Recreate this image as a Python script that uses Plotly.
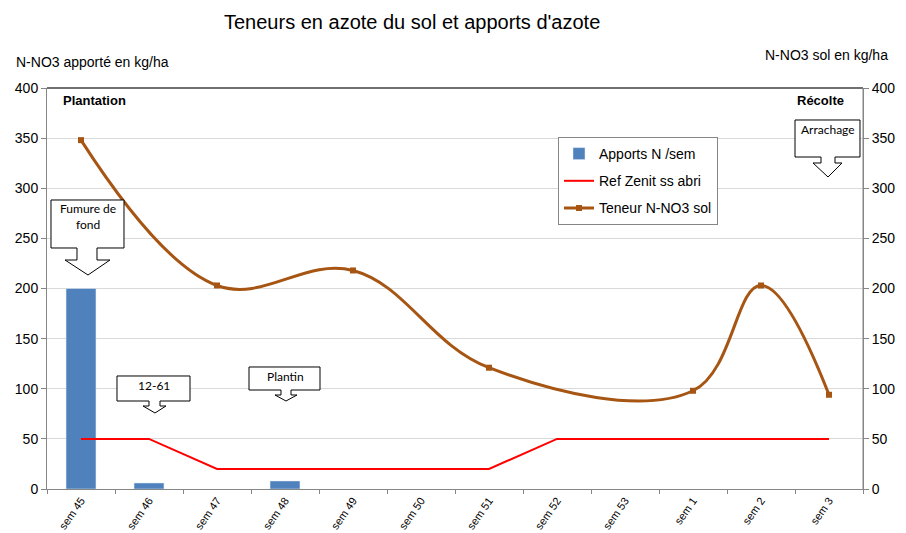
import plotly.graph_objects as go

categories = ["sem 45", "sem 46", "sem 47", "sem 48", "sem 49", "sem 50",
              "sem 51", "sem 52", "sem 53", "sem 1", "sem 2", "sem 3"]
apports = [200, 6, None, 8, None, None, None, None, None, None, None, None]
ref_zenit = [50, 50, 20, 20, 20, 20, 20, 50, 50, 50, 50, 50]
teneur = [348, None, 203, None, 218, None, 121, None, None, 98, 203, 94]
y_ticks = [0, 50, 100, 150, 200, 250, 300, 350, 400]

W, H = 906, 533
L, R, T, B = 47, 863, 88, 489

def px(x):
    return (x - L) / (R - L)

def py(y):
    return (B - y) / (B - T)

BROWN = "#A65513"
FONT = "Liberation Sans"

fig = go.Figure()
fig.add_trace(go.Bar(x=categories, y=apports, name="Apports N /sem",
                     marker_color="#4F81BD", legendgroup="a"))
fig.add_trace(go.Scatter(x=categories, y=ref_zenit, name="Ref Zenit ss abri",
                         mode="lines", line=dict(color="#FF0000", width=2),
                         yaxis="y2", legendgroup="b"))
fig.add_trace(go.Scatter(x=categories, y=teneur, name="Teneur N-NO3 sol",
                         mode="lines+markers", connectgaps=True,
                         line=dict(color=BROWN, width=3, shape="spline", smoothing=1.1),
                         marker=dict(symbol="square", size=6, color=BROWN),
                         yaxis="y2", legendgroup="c"))

def callout(x0, y0, x1, y1, sl, sr, ys, wl, wr, ax, ay):
    pts = [(x0, y0), (x1, y0), (x1, y1), (sr, y1), (sr, ys), (wr, ys), (ax, ay),
           (wl, ys), (sl, ys), (sl, y1), (x0, y1)]
    d = "M " + " L ".join(f"{px(a):.5f},{py(b):.5f}" for a, b in pts) + " Z"
    return dict(type="path", path=d, xref="paper", yref="paper",
                fillcolor="white", line=dict(color="#000000", width=1), layer="above")

shapes = [
    callout(51, 200, 124, 248, 77, 97, 260, 65, 110, 88, 275),
    callout(117, 376, 190, 401, 149, 160, 406, 143, 166, 155, 413),
    callout(249, 367, 320, 390, 281, 291, 395, 275, 297, 286, 401),
    callout(795, 120, 860, 157, 821, 835, 163, 813, 842, 828, 177),
    dict(type="line", xref="paper", yref="paper", x0=0, x1=1, y0=1, y1=1,
         line=dict(color="#404040", width=1.5)),
    dict(type="line", xref="paper", yref="paper", x0=1, x1=1, y0=0, y1=1,
         line=dict(color="#868686", width=1)),
]

cfont = dict(family="Lato", size=12, color="#000000")

def ann(text, x, y, xanchor="center", font=None):
    return dict(text=text, xref="paper", yref="paper", x=px(x), y=py(y),
                xanchor=xanchor, yanchor="middle", showarrow=False,
                font=font or cfont)

annotations = [
    ann("Teneurs en azote du sol et apports d'azote", 412, 22,
        font=dict(family=FONT, size=20, color="#000000")),
    ann("N-NO3 apporté en kg/ha", 14, 62, "left",
        font=dict(family=FONT, size=14, color="#000000")),
    ann("N-NO3 sol en kg/ha", 890, 55, "right",
        font=dict(family=FONT, size=14, color="#000000")),
    ann("<b>Plantation</b>", 61, 101, "left",
        font=dict(family=FONT, size=13, color="#000000")),
    ann("<b>Récolte</b>", 846, 101, "right",
        font=dict(family=FONT, size=13, color="#000000")),
    ann("Fumure de<br>fond", 88, 216),
    ann("12-61", 154, 385),
    ann("Plantin", 285, 376),
    ann("Arrachage", 828, 129),
]

fig.update_layout(
    width=W, height=H,
    margin=dict(l=L, r=W - R, t=T, b=H - B, pad=0, autoexpand=False),
    paper_bgcolor="white", plot_bgcolor="white",
    font=dict(family=FONT, size=14, color="#000000"),
    bargap=0.56,
    showlegend=True,
    legend=dict(x=px(558), y=py(137), xanchor="left", yanchor="top",
                bordercolor="#868686", borderwidth=1, bgcolor="white",
                font=dict(family=FONT, size=14, color="#000000"),
                traceorder="grouped", tracegroupgap=6, itemwidth=30),
    xaxis=dict(type="category", categoryorder="array", categoryarray=categories,
               range=[-0.5, 11.5], tickson="boundaries", ticks="outside", ticklen=4,
               tickcolor="#868686", showline=True, linecolor="#868686", linewidth=1,
               tickangle=-55, tickfont=dict(family=FONT, size=11, color="#000000"),
               showgrid=False, automargin=False),
    yaxis=dict(range=[0, 400], tickvals=y_ticks, showgrid=True, gridcolor="#D9D9D9",
               ticks="outside", ticklen=5, tickcolor="#868686", showline=True,
               linecolor="#868686", zeroline=False, automargin=False,
               tickfont=dict(family=FONT, size=14, color="#000000")),
    yaxis2=dict(range=[0, 400], tickvals=y_ticks, overlaying="y", side="right",
                showgrid=False, ticks="outside", ticklen=5, tickcolor="#868686",
                showline=True, linecolor="#868686", zeroline=False, automargin=False,
                tickfont=dict(family=FONT, size=14, color="#000000")),
    shapes=shapes,
    annotations=annotations,
)

fig.write_html("out.html", config={"displayModeBar": False},
               post_script="document.body.style.margin='0px';document.body.style.overflow='hidden';")
